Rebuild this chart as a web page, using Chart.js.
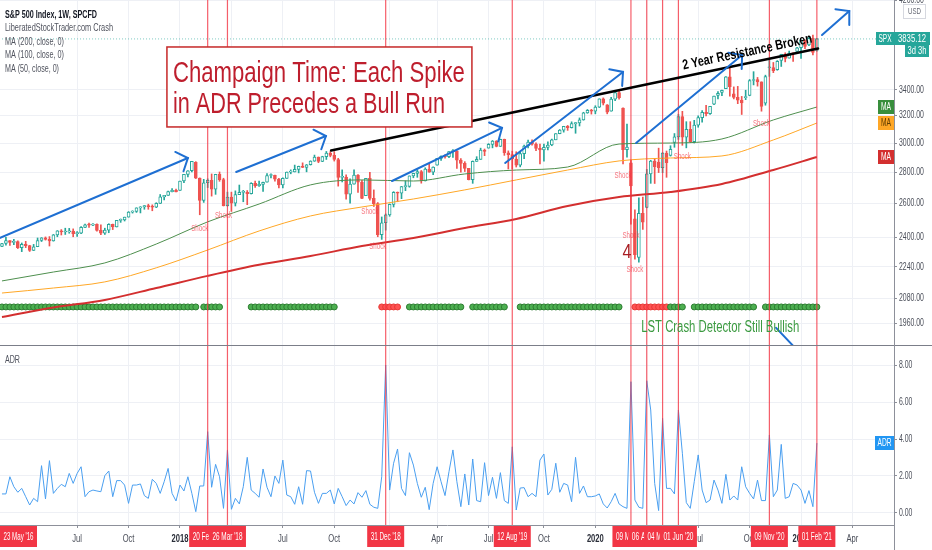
<!DOCTYPE html>
<html>
<head>
<meta charset="utf-8">
<script src="https://cdn.jsdelivr.net/npm/chart.js@4.4.1/dist/chart.umd.min.js"></script>
<style>
  html, body { margin: 0; padding: 0; background: #fff; }
  #wrap { position: relative; width: 932px; height: 550px; overflow: hidden; }
  #priceCanvas { position: absolute; left: 0; top: 0; }
  #adrCanvas { position: absolute; left: 0; top: 345px; }
</style>
</head>
<body>
<div id="wrap">
  <canvas id="priceCanvas" width="932" height="345"></canvas>
  <canvas id="adrCanvas" width="932" height="205"></canvas>
</div>
<script>
// weekly bars, week 0 = week of 1 Jan 2018, first bar = week of 20 Feb 2017
const firstWeek = -45;

const openP = [
  2351,2367,2383,2373,2378,2344,2363,2355,2329,2349,
  2384,2399,2390,2382,2416,2439,2432,2433,2438,2423,
  2425,2459,2473,2472,2477,2441,2426,2443,2477,2461,
  2500,2502,2519,2549,2553,2575,2581,2588,2582,2579,
  2602,2642,2652,2675,2683,2683,2743,2786,2810,2867,
  2762,2620,2732,2747,2691,2786,2752,2588,2641,2604,
  2656,2670,2670,2663,2728,2713,2721,2735,2779,2780,
  2755,2718,2760,2801,2802,2819,2840,2833,2850,2875,
  2902,2872,2905,2930,2914,2886,2767,2768,2659,2723,
  2781,2736,2650,2760,2633,2600,2417,2486,2532,2596,
  2671,2665,2707,2708,2776,2793,2804,2743,2822,2800,
  2848,2893,2907,2905,2940,2946,2881,2860,2826,2752,
  2873,2887,2950,2964,2990,3014,2977,3026,2932,2919,
  2889,2847,2926,2979,3007,2992,2962,2952,2970,2986,
  3023,3067,3093,3120,3110,3141,3146,3169,3221,3240,
  3235,3265,3330,3282,3235,3328,3380,3258,2954,2863,
  2509,2290,2541,2578,2790,2875,2869,2831,2930,2913,
  3004,3044,3194,3041,3098,3009,3130,3185,3225,3216,
  3289,3356,3380,3411,3508,3370,3341,3319,3338,3357,
  3477,3484,3465,3296,3583,3585,3566,3645,3699,3666,
  3709,3723,3756,3825,3781,3841,3732
];
const highP = [
  2368,2401,2384,2390,2382,2370,2379,2357,2362,2398,
  2400,2404,2406,2418,2440,2446,2454,2453,2450,2435,
  2463,2478,2484,2481,2480,2474,2454,2480,2478,2500,
  2508,2519,2552,2557,2575,2582,2588,2597,2593,2606,
  2657,2652,2679,2695,2692,2743,2787,2811,2873,2871,
  2763,2754,2757,2789,2787,2802,2761,2672,2672,2680,
  2717,2683,2682,2732,2742,2742,2736,2791,2789,2781,
  2760,2763,2802,2816,2848,2841,2863,2852,2877,2916,
  2903,2908,2941,2940,2940,2894,2816,2784,2757,2816,
  2785,2747,2760,2800,2686,2607,2520,2538,2598,2675,
  2673,2708,2744,2776,2794,2816,2812,2830,2860,2836,
  2893,2910,2918,2940,2954,2946,2892,2871,2826,2876,
  2905,2964,2958,2996,3018,3017,3028,3028,2945,2943,
  2939,2941,2985,3021,3022,3002,2993,2993,3008,3028,
  3067,3097,3121,3127,3154,3150,3183,3226,3247,3248,
  3276,3330,3337,3285,3342,3385,3393,3259,3137,2882,
  2562,2637,2641,2819,2880,2887,2964,2933,2944,2981,
  3068,3211,3233,3155,3155,3165,3199,3238,3280,3272,
  3352,3388,3399,3510,3588,3425,3429,3349,3398,3485,
  3550,3502,3466,3521,3646,3628,3644,3699,3712,3727,
  3712,3760,3827,3826,3859,3870,3841
];
const lowP = [
  2350,2358,2357,2361,2339,2322,2344,2323,2328,2349,
  2378,2386,2353,2380,2405,2415,2418,2425,2405,2407,
  2422,2457,2459,2468,2437,2417,2418,2428,2446,2461,
  2488,2496,2519,2543,2547,2544,2566,2566,2557,2576,
  2601,2624,2651,2674,2673,2683,2733,2769,2802,2759,
  2533,2608,2701,2647,2658,2741,2586,2585,2553,2586,
  2656,2612,2594,2660,2701,2708,2676,2735,2763,2742,
  2699,2699,2760,2790,2802,2796,2831,2803,2848,2873,
  2864,2871,2886,2904,2875,2710,2737,2628,2603,2722,
  2670,2631,2649,2621,2583,2405,2390,2443,2524,2580,
  2612,2631,2681,2703,2764,2767,2729,2743,2800,2785,
  2848,2879,2895,2898,2900,2825,2801,2805,2750,2728,
  2873,2887,2912,2964,2966,2973,2976,2914,2822,2822,
  2835,2836,2891,2966,2985,2946,2855,2874,2952,2981,
  3023,3066,3078,3091,3108,3070,3123,3166,3218,3212,
  3214,3262,3282,3214,3234,3315,3328,2855,2901,2478,
  2281,2265,2447,2575,2728,2727,2798,2797,2767,2909,
  2970,3026,2984,2966,3004,3000,3114,3151,3199,3209,
  3284,3329,3354,3411,3350,3329,3292,3209,3323,3354,
  3441,3431,3234,3280,3511,3542,3562,3594,3633,3665,
  3636,3707,3663,3749,3774,3694,3725
];
const closeP = [
  2367,2383,2373,2378,2344,2363,2355,2329,2349,2384,
  2399,2390,2382,2416,2439,2432,2433,2438,2423,2425,
  2459,2473,2472,2477,2441,2426,2443,2477,2461,2500,
  2502,2519,2549,2553,2575,2581,2588,2582,2579,2602,
  2642,2652,2675,2683,2674,2743,2786,2810,2873,2762,
  2620,2732,2747,2691,2786,2752,2588,2641,2604,2656,
  2670,2670,2663,2728,2713,2721,2735,2779,2780,2755,
  2718,2760,2801,2802,2819,2840,2833,2850,2875,2902,
  2872,2905,2930,2914,2886,2767,2768,2659,2723,2781,
  2736,2633,2760,2633,2600,2417,2486,2532,2596,2671,
  2665,2707,2708,2776,2793,2804,2743,2822,2800,2834,
  2893,2907,2905,2940,2946,2881,2860,2826,2752,2873,
  2887,2950,2942,2990,3014,2977,3026,2932,2919,2889,
  2847,2926,2979,3007,2992,2962,2952,2970,2986,3023,
  3067,3093,3120,3110,3141,3146,3169,3221,3240,3235,
  3265,3330,3295,3226,3328,3380,3338,2954,2972,2711,
  2305,2541,2489,2790,2875,2837,2831,2930,2864,2955,
  3044,3194,3041,3098,3009,3130,3185,3225,3216,3271,
  3351,3373,3397,3508,3427,3341,3319,3298,3348,3477,
  3484,3465,3270,3510,3585,3558,3638,3699,3663,3709,
  3703,3756,3825,3768,3841,3714,3835
];

// ADR indicator, one value per week
const adrValues = [
  1.03,1.03,1.96,1.42,1.12,1.33,0.88,0.43,0.79,0.61,
  2.56,0.76,2.83,1.06,1.33,1.55,1.42,2.14,1.60,2.14,
  2.50,0.88,1.15,1.24,1.19,1.15,2.02,2.27,0.88,1.75,
  1.75,1.51,0.52,1.51,1.51,1.57,0.94,0.79,1.82,1.60,
  1.06,1.69,2.41,1.06,0.65,1.51,1.19,1.96,1.06,0.07,
  1.46,1.46,4.40,1.39,2.63,1.96,0.25,3.41,0.20,0.79,
  0.49,1.42,3.01,1.24,1.06,0.85,2.38,1.39,0.88,2.00,
  1.60,2.86,0.97,0.88,0.47,1.42,0.47,2.29,2.27,1.12,
  0.52,1.06,1.06,1.24,0.49,1.33,0.88,0.40,0.70,0.49,
  1.10,0.85,1.21,0.47,0.31,0.25,1.96,8.00,1.24,2.69,
  3.46,1.33,0.94,3.26,2.59,1.60,0.85,1.39,0.18,1.60,
  2.50,1.69,0.94,2.23,3.41,1.69,0.34,2.11,0.43,2.92,
  0.67,0.61,2.72,0.94,1.93,0.79,2.18,0.67,0.52,3.58,
  0.16,1.35,1.37,0.88,1.06,0.88,2.86,3.19,0.97,1.28,
  2.69,1.12,1.60,1.51,0.61,3.01,1.06,1.46,0.88,0.88,
  0.92,1.03,0.49,0.27,0.61,1.06,0.49,0.34,0.25,7.10,
  0.70,0.31,0.25,7.15,5.57,1.60,0.13,5.12,1.33,1.33,
  1.03,5.57,3.23,0.56,0.25,1.69,3.14,1.24,0.56,0.70,
  1.78,1.24,0.52,2.09,0.70,0.92,0.70,2.50,1.42,1.06,
  0.76,1.78,0.67,0.67,4.22,0.88,1.24,3.71,0.79,0.88,
  1.60,1.51,1.24,0.52,1.21,0.34,3.78
];

// crash detector: 1 = bullish (green), 2 = crash (red), 0 = no dot
const crashState = [
  1,1,1,1,1,1,1,1,1,1, 1,1,1,1,1,1,1,1,1,1,
  1,1,1,1,1,1,1,1,1,1, 1,1,1,1,1,1,1,1,1,1,
  1,1,1,1,1,1,1,1,1,1, 0,1,1,1,1,1,0,0,0,0,
  0,0,0,1,1,1,1,1,1,1, 1,1,1,1,1,1,1,1,1,1,
  1,1,1,1,1,0,0,0,0,0, 0,0,0,0,0,0,2,2,2,2,
  2,0,0,1,1,1,1,1,1,1, 1,1,1,1,1,1,1,0,0,1,
  1,1,1,1,1,1,1,1,0,0, 0,1,1,1,1,1,1,1,1,1,
  1,1,1,1,1,1,1,1,1,1, 1,1,1,1,1,1,1,0,0,0,
  2,2,2,2,2,2,2,2,2,1, 1,1,1,0,0,1,1,1,1,1,
  1,1,1,1,1,1,1,1,1,1, 1,0,0,1,1,1,1,1,1,1,
  1,1,1,1,1,1,1
];

// moving averages at sample weeks
const maWeeks = [-45,-32,-19,-6,7,20,33,46,59,72,85,98,111,124,137,150,161];
const ma200 = [1990,2035,2072,2131,2193,2251,2298,2353,2398,2455,2508,2586,2641,2673,2724,2815,2903];
const ma100 = [2106,2131,2162,2235,2331,2438,2526,2580,2629,2686,2750,2815,2876,2896,2910,3022,3145];
const ma50  = [2167,2213,2261,2364,2491,2598,2718,2750,2743,2789,2815,2835,2993,3000,3029,3168,3266];

const lastPrice = 3835.12;
const priceTicks = [1960, 2080, 2240, 2400, 2600, 2800, 3000, 3200, 3400, 4200];
const adrTicks = [0, 2, 4, 6, 8];
const timeTickWeeks = [-26,-13,0,13,26,39,53,65,78,92,105,118,131,144,157,170];
const timeTickLabels = ['Jul','Oct','2018','Apr','Jul','Oct','2019','Apr','Jul','Oct','2020','Apr','Jul','Oct','2021','Apr'];

// marked ADR spikes (vertical lines)
const eventWeeks = [-84, 7, 12, 52, 84, 114, 118, 122, 126, 149, 161];
const eventLabels = ["23 May '16","20 Feb '18","26 Mar '18","31 Dec '18","12 Aug '19","09 Mar '20","06 Apr '20","04 May '20","01 Jun '20","09 Nov '20","01 Feb '21"];

// "Shock" labels under bars
const shockWeeks  = [5, 11, 48, 50, 112, 114, 115, 127, 147];
const shockPrices = [2455, 2526, 2550, 2348, 2776, 2410, 2224, 2903, 3138];

// hand drawn trend arrows [fromWeek, fromPrice, toWeek, toPrice, head]
const trendArrows = [
  [-50, 2356, 2.0, 2896, 1],
  [14.2, 2802, 36.9, 3050, 1],
  [53.6, 2743, 81.4, 3109, 1],
  [82.2, 2862, 112, 3548, 1],
  [115.3, 3000, 142.1, 3692, 1],
  [162.3, 3871, 169.2, 4096, 1],
  [150.7, 1940, 156, 1841, 0]
];
const resistanceLine = [38.2, 2948, 161.3, 3750];

const xMin = -45.5, xMax = 180.5;
const priceMin = 1863, priceMax = 4204;
const adrMin = -0.65, adrMax = 9.03;
const dotLevel = 2038;

const NARROW = "'Liberation Sans Narrow', 'Liberation Sans', Arial, sans-serif";
const GRID = '#eef0f5';
const AXIS_LINE = '#8d909a';
const AXIS_TEXT = '#4a4e59';
const RED_LINE = 'rgba(242, 54, 69, 0.8)';
const UP = '#26a69a', DOWN = '#ef5350';
const SQUEEZE = 0.69;

// text squeezed or stretched to a given width
function fitText(ctx, text, x, y, width, font, color, align, baseline) {
  ctx.save();
  ctx.font = font;
  ctx.fillStyle = color;
  ctx.textAlign = 'left';
  ctx.textBaseline = baseline || 'alphabetic';
  const sx = width / ctx.measureText(text).width;
  let left = x;
  if (align === 'center') left = x - width / 2;
  if (align === 'right') left = x - width;
  ctx.translate(left, y);
  ctx.scale(sx, 1);
  ctx.fillText(text, 0, 0);
  ctx.restore();
}

// text narrowed by a fixed factor
function narrowText(ctx, text, x, y, font, color, align) {
  ctx.save();
  ctx.font = font;
  const w = ctx.measureText(text).width * SQUEEZE;
  ctx.restore();
  fitText(ctx, text, x, y, w, font, color, align, 'middle');
}

function drawArrow(ctx, x1, y1, x2, y2, head) {
  ctx.beginPath();
  ctx.moveTo(x1, y1);
  ctx.lineTo(x2, y2);
  ctx.stroke();
  if (!head) return;
  const ang = Math.atan2(y2 - y1, x2 - x1);
  ctx.beginPath();
  ctx.moveTo(x2 - 14 * Math.cos(ang - 0.85), y2 - 14 * Math.sin(ang - 0.85));
  ctx.lineTo(x2, y2);
  ctx.lineTo(x2 - 14 * Math.cos(ang + 0.85), y2 - 14 * Math.sin(ang + 0.85));
  ctx.stroke();
}

function labelBox(ctx, x, y, w, h, fill, text, textW, color) {
  ctx.fillStyle = fill;
  ctx.fillRect(x, y, w, h);
  fitText(ctx, text, x + w / 2, y + h / 2 + 0.5, textW, `10px ${NARROW}`, color || '#fff', 'center', 'middle');
}

const bodyData = closeP.map((c, i) => ({ x: firstWeek + i, y: [openP[i], c] }));
const wickData = closeP.map((c, i) => ({ x: firstWeek + i, y: [lowP[i], highP[i]] }));
const candleColor = closeP.map((c, i) => c >= openP[i] ? UP : DOWN);
const bodyFill = closeP.map((c, i) => c >= openP[i] ? '#ffffff' : DOWN);
const dotPoints = [], dotFill = [], dotEdge = [];
crashState.forEach((s, i) => {
  if (!s) return;
  dotPoints.push({ x: firstWeek + i, y: dotLevel });
  dotFill.push(s === 1 ? '#4caf50' : '#ff5252');
  dotEdge.push(s === 1 ? '#2e7d32' : '#e53935');
});
const maLine = arr => maWeeks.map((w, i) => ({ x: w, y: arr[i] }));

const priceOverlay = {
  id: 'priceOverlay',
  afterDatasetsDraw(chart) {
    const { ctx, chartArea: a, scales: { x, y } } = chart;
    ctx.save();
    ctx.beginPath();
    ctx.rect(a.left, a.top, a.right - a.left, a.bottom - a.top);
    ctx.clip();

    shockWeeks.forEach((w, i) => {
      fitText(ctx, 'Shock', x.getPixelForValue(w), y.getPixelForValue(shockPrices[i]), 17,
        `9px ${NARROW}`, 'rgba(242,54,69,0.7)', 'center', 'middle');
    });

    ctx.strokeStyle = RED_LINE;
    ctx.lineWidth = 1.2;
    eventWeeks.forEach(w => {
      const px = x.getPixelForValue(w);
      ctx.beginPath();
      ctx.moveTo(px, a.top);
      ctx.lineTo(px, a.bottom);
      ctx.stroke();
    });

    // 2 year resistance
    const rx1 = x.getPixelForValue(resistanceLine[0]), ry1 = y.getPixelForValue(resistanceLine[1]);
    const rx2 = x.getPixelForValue(resistanceLine[2]), ry2 = y.getPixelForValue(resistanceLine[3]);
    ctx.strokeStyle = '#000';
    ctx.lineWidth = 2.5;
    ctx.lineCap = 'round';
    ctx.beginPath();
    ctx.moveTo(rx1, ry1);
    ctx.lineTo(rx2, ry2);
    ctx.stroke();

    ctx.strokeStyle = '#1e6fd2';
    ctx.lineWidth = 2;
    trendArrows.forEach(t => {
      drawArrow(ctx, x.getPixelForValue(t[0]), y.getPixelForValue(t[1]),
        x.getPixelForValue(t[2]), y.getPixelForValue(t[3]), t[4]);
    });

    // resistance caption
    ctx.save();
    ctx.translate(x.getPixelForValue(143.6), y.getPixelForValue(3684));
    ctx.rotate(Math.atan2(ry2 - ry1, rx2 - rx1));
    fitText(ctx, '2 Year Resistance Broken', 0, 0, 132, `bold 14px ${NARROW}`, '#000', 'center');
    ctx.restore();

    // title box
    const bx = x.getPixelForValue(-3.3), by = y.getPixelForValue(3763);
    const bw = x.getPixelForValue(73.8) - bx, bh = y.getPixelForValue(3116) - by;
    ctx.fillStyle = '#fff';
    ctx.fillRect(bx, by, bw, bh);
    ctx.strokeStyle = '#c62828';
    ctx.lineWidth = 1.5;
    ctx.strokeRect(bx, by, bw, bh);
    fitText(ctx, 'Champaign Time: Each Spike', bx + 6, by + 35, 292, `29px ${NARROW}`, '#be1e2d');
    fitText(ctx, 'in ADR Precedes a Bull Run', bx + 6, by + 66, 272, `29px ${NARROW}`, '#be1e2d');

    fitText(ctx, 'LST Crash Detector Still Bullish', x.getPixelForValue(116.6), y.getPixelForValue(1921), 158,
      `16px ${NARROW}`, '#3b9a40');
    fitText(ctx, '4', x.getPixelForValue(113), y.getPixelForValue(2315), 9, `20px ${NARROW}`, '#a81d22', 'center', 'middle');
    ctx.restore();
  },
  afterDraw(chart) {
    const { ctx, chartArea: a, scales: { y } } = chart;
    ctx.save();
    // price axis labels
    priceTicks.forEach(v => {
      narrowText(ctx, v.toFixed(2), a.right + 5, y.getPixelForValue(v), `10px ${NARROW}`, AXIS_TEXT, 'left');
    });

    fitText(ctx, 'S&P 500 Index, 1W, SPCFD', 5, 18, 92, `bold 11px ${NARROW}`, '#131722');
    fitText(ctx, 'LiberatedStockTrader.com Crash', 5, 31, 108, `11px ${NARROW}`, '#50535e');
    fitText(ctx, 'MA (200, close, 0)', 5, 45, 59, `11px ${NARROW}`, '#50535e');
    fitText(ctx, 'MA (100, close, 0)', 5, 58, 59, `11px ${NARROW}`, '#50535e');
    fitText(ctx, 'MA (50, close, 0)', 5, 72, 54, `11px ${NARROW}`, '#50535e');

    // currency box
    ctx.fillStyle = '#fff';
    ctx.fillRect(903, 4, 22, 14);
    ctx.strokeStyle = '#d6d8df';
    ctx.lineWidth = 1;
    ctx.strokeRect(903.5, 4.5, 22, 14);
    fitText(ctx, 'USD', 914.5, 11.5, 13, `9px ${NARROW}`, '#6a6d78', 'center', 'middle');

    // last price labels
    const py = Math.round(y.getPixelForValue(lastPrice));
    labelBox(ctx, 876, py - 7, 18, 13, UP, 'SPX', 13);
    labelBox(ctx, 894, py - 7, 36, 13, UP, lastPrice.toFixed(2), 28);
    labelBox(ctx, 905, py + 6, 24, 12, UP, '3d 3h', 19);

    // moving average tags
    const tags = [[ma50, '#388e3c', '#fff'], [ma100, '#ffa726', '#5d3a00'], [ma200, '#d32f2f', '#fff']];
    tags.forEach(t => {
      const ty = Math.round(y.getPixelForValue(t[0][t[0].length - 1]));
      labelBox(ctx, 878, ty - 7, 16, 14, t[1], 'MA', 10, t[2]);
    });
    ctx.restore();
  }
};

new Chart(document.getElementById('priceCanvas'), {
  type: 'bar',
  data: {
    datasets: [
      { type: 'line', label: 'MA 200', data: maLine(ma200), borderColor: '#d32f2f', borderWidth: 2,
        pointRadius: 0, cubicInterpolationMode: 'monotone', order: 0 },
      { type: 'line', label: 'MA 100', data: maLine(ma100), borderColor: '#ffa726', borderWidth: 1,
        pointRadius: 0, cubicInterpolationMode: 'monotone', order: 1 },
      { type: 'line', label: 'MA 50', data: maLine(ma50), borderColor: '#4e8f4e', borderWidth: 1,
        pointRadius: 0, cubicInterpolationMode: 'monotone', order: 2 },
      { type: 'line', label: 'Crash detector', data: dotPoints, showLine: false, pointRadius: 3,
        pointBackgroundColor: dotFill, pointBorderColor: dotEdge, pointBorderWidth: 1, order: 3 },
      { type: 'line', label: 'Last', data: [{ x: xMin - 1, y: lastPrice }, { x: xMax + 1, y: lastPrice }],
        borderColor: 'rgba(38,166,154,0.6)', borderWidth: 1, borderDash: [1, 2], pointRadius: 0, order: 4 },
      { type: 'bar', label: 'Body', data: bodyData, backgroundColor: bodyFill, borderColor: candleColor,
        borderWidth: 1, borderSkipped: false, barThickness: 3, minBarLength: 1, grouped: false, order: 5 },
      { type: 'bar', label: 'Wick', data: wickData, backgroundColor: candleColor,
        barThickness: 1, grouped: false, order: 6 }
    ]
  },
  options: {
    responsive: false,
    animation: false,
    events: [],
    layout: { padding: 0, autoPadding: false },
    plugins: { legend: { display: false }, tooltip: { enabled: false } },
    scales: {
      x: {
        type: 'linear', min: xMin, max: xMax, offset: false,
        grid: { color: GRID, drawTicks: false, offset: false },
        border: { display: false },
        ticks: { display: false },
        afterBuildTicks: s => { s.ticks = timeTickWeeks.map(v => ({ value: v })); },
        afterFit: s => { s.height = 0; }
      },
      y: {
        type: 'logarithmic', position: 'right', min: priceMin, max: priceMax,
        grid: { color: GRID, tickLength: 3, tickColor: AXIS_LINE },
        border: { color: AXIS_LINE },
        ticks: { display: false, autoSkip: false },
        afterBuildTicks: s => { s.ticks = priceTicks.map(v => ({ value: v })); },
        afterFit: s => { s.width = 38; }
      }
    }
  },
  plugins: [priceOverlay]
});

const adrOverlay = {
  id: 'adrOverlay',
  afterDatasetsDraw(chart) {
    const { ctx, chartArea: a, scales: { x } } = chart;
    ctx.save();
    ctx.beginPath();
    ctx.rect(a.left, a.top, a.right - a.left, a.bottom - a.top);
    ctx.clip();
    ctx.strokeStyle = RED_LINE;
    ctx.lineWidth = 1.2;
    eventWeeks.forEach(w => {
      const px = x.getPixelForValue(w);
      ctx.beginPath();
      ctx.moveTo(px, a.top);
      ctx.lineTo(px, a.bottom);
      ctx.stroke();
    });
    ctx.restore();
  },
  afterDraw(chart) {
    const { ctx, chartArea: a, scales: { x, y } } = chart;
    ctx.save();
    // pane separator and price axis line
    ctx.strokeStyle = '#7b7e89';
    ctx.lineWidth = 1;
    ctx.beginPath();
    ctx.moveTo(0, 0.5);
    ctx.lineTo(932, 0.5);
    ctx.stroke();
    ctx.strokeStyle = AXIS_LINE;
    ctx.beginPath();
    ctx.moveTo(a.right + 0.5, 0);
    ctx.lineTo(a.right + 0.5, 205);
    ctx.stroke();

    fitText(ctx, 'ADR', 5, 18, 15, `10px ${NARROW}`, '#50535e');

    // axis labels
    adrTicks.forEach(v => {
      narrowText(ctx, v.toFixed(2), a.right + 5, y.getPixelForValue(v), `10px ${NARROW}`, AXIS_TEXT, 'left');
    });
    timeTickWeeks.forEach((w, i) => {
      const year = /^\d{4}$/.test(timeTickLabels[i]);
      narrowText(ctx, timeTickLabels[i], x.getPixelForValue(w), a.bottom + 13.5,
        `${year ? 'bold ' : ''}11px ${NARROW}`, year ? '#2a2e39' : AXIS_TEXT, 'center');
    });

    // spike date labels on the time axis
    eventWeeks.forEach((w, i) => {
      let cx = x.getPixelForValue(w);
      if (cx < a.left + 18.5) cx = a.left + 18.5;
      labelBox(ctx, cx - 18.5, a.bottom + 1, 37, 21, '#f23645', eventLabels[i], 30);
    });

    const ay = Math.round(y.getPixelForValue(adrValues[adrValues.length - 1]));
    labelBox(ctx, 875, ay - 7, 19, 14, '#2196f3', 'ADR', 14);
    ctx.restore();
  }
};

new Chart(document.getElementById('adrCanvas'), {
  type: 'line',
  data: {
    datasets: [{
      label: 'ADR',
      data: adrValues.map((v, i) => ({ x: firstWeek + i, y: v })),
      borderColor: '#4a9ff0', borderWidth: 1, pointRadius: 0, tension: 0
    }]
  },
  options: {
    responsive: false,
    animation: false,
    events: [],
    layout: { padding: { top: 1 }, autoPadding: false },
    plugins: { legend: { display: false }, tooltip: { enabled: false } },
    scales: {
      x: {
        type: 'linear', min: xMin, max: xMax,
        grid: { color: GRID, tickLength: 3, tickColor: AXIS_LINE },
        border: { color: AXIS_LINE },
        ticks: { display: false, autoSkip: false },
        afterBuildTicks: s => { s.ticks = timeTickWeeks.map(v => ({ value: v })); },
        afterFit: s => { s.height = 25; }
      },
      y: {
        position: 'right', min: adrMin, max: adrMax,
        grid: { color: GRID, tickLength: 3, tickColor: AXIS_LINE },
        border: { color: AXIS_LINE },
        ticks: { display: false, autoSkip: false },
        afterBuildTicks: s => { s.ticks = adrTicks.map(v => ({ value: v })); },
        afterFit: s => { s.width = 38; }
      }
    }
  },
  plugins: [adrOverlay]
});
</script>
</body>
</html>
